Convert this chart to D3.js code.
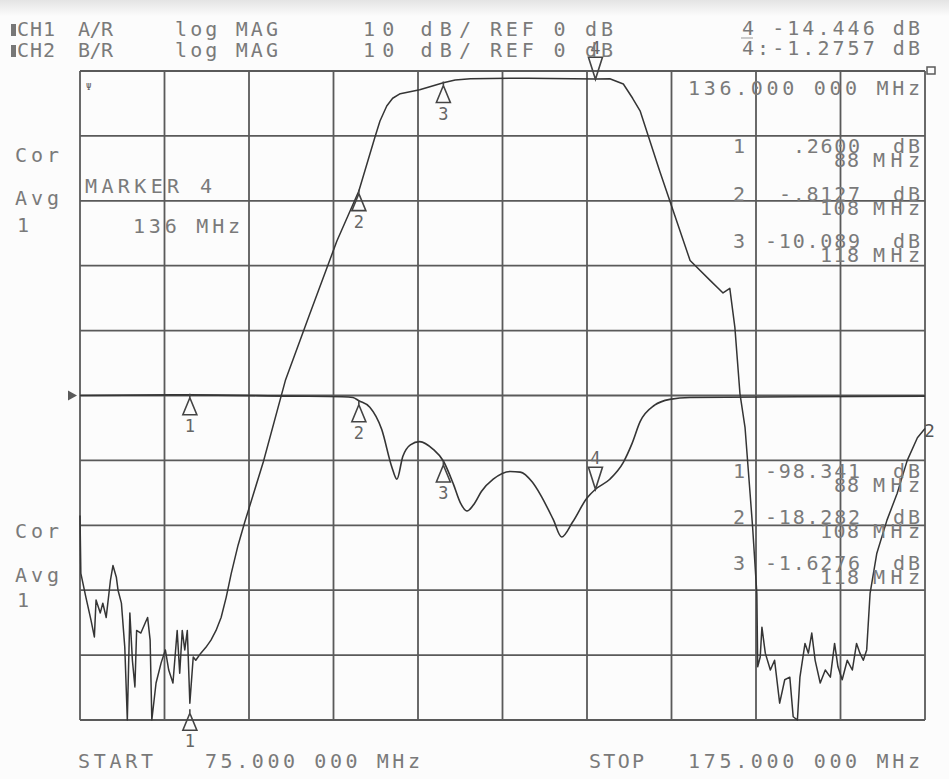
<!DOCTYPE html>
<html>
<head>
<meta charset="utf-8">
<script src="https://cdn.jsdelivr.net/npm/d3@7"></script>
<style>
  html, body { margin: 0; padding: 0; background: #fcfcfc; }
  text { font-family: "DejaVu Sans Mono", monospace; white-space: pre; }
</style>
</head>
<body>
<svg id="chart" width="949" height="779"></svg>
<script>
/**
 * Sweep settings
 */
var startFreq = 75;
var stopFreq = 175;
var dbPerDiv = 10;

/**
 * CH2 B/R (transmission), ref 0 dB at top line
 */
var ch2Freq = [75.0, 75.1, 75.7, 76.3, 76.7, 76.9, 77.4, 77.7, 78.1, 78.6, 78.9, 79.3, 79.5, 79.9,
  80.3, 80.6, 80.9, 81.2, 81.5, 81.7, 82.2, 82.7, 83.0, 83.3, 83.5, 84.0, 84.6, 85.1, 85.5, 86.0,
  86.5, 86.8, 87.1, 87.4, 87.7, 88.0, 88.4, 88.7, 89.3, 89.9, 90.5, 91.1, 91.7, 92.3, 92.9, 93.7,
  94.5, 96.7, 99.3, 102.2, 105.4, 108.0, 109.9, 110.5, 111.3, 112.0, 112.9, 115.2, 118.0, 119.4,
  121.2, 128.0, 136.0, 137.7, 139.3, 140.4, 141.3, 143.6, 145.4, 147.2, 149.6, 151.1, 151.9, 152.5,
  153.1, 153.7, 154.3, 154.6, 155.1, 155.2, 155.5, 155.7, 156.1, 156.7, 157.2, 157.8, 158.4, 159.0,
  159.4, 159.9, 160.2, 160.8, 161.2, 161.6, 162.0, 162.6, 163.2, 163.8, 164.3, 164.7, 165.2, 165.8,
  166.4, 166.9, 167.3, 167.7, 168.1, 168.5, 169.3, 170.5, 171.7, 172.9, 174.1, 175.0];
var ch2Db = [-68.5, -77.4, -81.1, -84.6, -87.2, -81.5, -83.5, -82.0, -84.2, -78.5, -76.2, -78.0, -80.0, -82.0,
  -88.8, -100, -83.5, -90.8, -94.9, -86.2, -86.6, -85.1, -84.2, -87.7, -100, -94.3, -91.2, -89.2, -92.3, -94.3,
  -86.2, -92.8, -86.2, -89.2, -86.2, -97.4, -90.3, -90.8, -89.7, -88.8, -87.7, -86.2, -84.2, -81.1, -77.4, -73.1,
  -69.5, -60.2, -47.7, -37.4, -26.2, -18.5, -10.2, -7.7, -5.4, -4.2, -3.5, -2.9, -1.8, -1.4,
  -1.2, -1.1, -1.25, -1.2, -2.0, -4.2, -6.2, -15.4, -22.3, -29.2, -32.3, -34.2, -33.5, -39.5,
  -49.7, -54.9, -65.1, -70.3, -80.5, -91.8, -90.3, -85.7, -89.7, -92.3, -90.8, -97.4, -93.8, -93.4,
  -99.5, -100, -93.4, -88.2, -89.7, -86.6, -90.8, -94.3, -92.3, -93.4, -88.2, -91.8, -93.8, -90.8,
  -92.3, -88.2, -89.7, -90.8, -89.2, -80.5, -74.3, -69.2, -65.1, -60.0, -56.5, -55.1];

/**
 * CH1 A/R (reflection), ref 0 dB at centre line
 */
var ch1Freq = [75, 88, 100, 106, 107.3, 108, 109.3, 110.7, 111.9, 112.5, 113.2, 114.1, 115.2, 116.8,
  118, 119.2, 120.0, 120.8, 121.7, 122.5, 123.9, 125.9, 127.1, 128.5, 129.5, 131.0, 132.0, 133.3,
  135.0, 136, 137.7, 139.3, 140.3, 141.3, 143.0, 144.8, 147.2, 160, 175];
var ch1Db = [0.0, 0.1, -0.1, -0.2, -0.3, -0.81, -1.8, -5.2, -11.0, -12.9, -9.4, -7.6, -7.1, -8.3,
  -10.09, -13.7, -16.5, -17.8, -16.6, -14.8, -12.9, -11.7, -11.8, -13.3, -15.3, -19.1, -21.8, -19.5,
  -15.8, -14.45, -12.9, -10.3, -7.5, -4.0, -1.5, -0.6, -0.3, -0.2, -0.1];

/**
 * Markers
 */
var markerFreqs = [88, 108, 118, 136];
var ch1MarkerDb = [0.26, -0.8127, -10.089, -14.446];
var ch2MarkerDb = [-98.341, -18.282, -1.6276, -1.2757];
var activeMarker = 4;

/**
 * Header labels
 */
var headerCh1 = ['CH1', 'A/R', 'log MAG', '10 dB/', 'REF 0 dB'];
var headerCh2 = ['CH2', 'B/R', 'log MAG', '10 dB/', 'REF 0 dB'];
var statusLabels = ['Cor', 'Avg', '1'];

var textColor = '#7a7a7a';
var traceColor = '#353535';
var gridColor = '#5a5a5a';

var svg = d3.select('#chart');

var defs = svg.append('defs');
var grad = defs.append('linearGradient')
  .attr('id', 'scan-top')
  .attr('x1', 0).attr('y1', 0).attr('x2', 0).attr('y2', 1);
grad.append('stop').attr('offset', '0%').attr('stop-color', '#e4e4e4');
grad.append('stop').attr('offset', '100%').attr('stop-color', '#fcfcfc');

svg.append('rect')
  .attr('width', 949).attr('height', 16)
  .attr('fill', 'url(#scan-top)');

/**
 * Scales
 */
var x = d3.scaleLinear().domain([startFreq, stopFreq]).range([80, 925]);
var yCh2 = d3.scaleLinear().domain([-10 * dbPerDiv, 0]).range([720, 71]);
var yCh1 = d3.scaleLinear().domain([-5 * dbPerDiv, 5 * dbPerDiv]).range([720, 71]);

function putText(parent, str, px, py, opts) {
  opts = opts || {};
  var t = parent.append('text')
    .attr('x', px)
    .attr('y', py)
    .attr('fill', opts.fill || textColor)
    .attr('text-anchor', opts.anchor || 'start')
    .style('font-size', (opts.size || 20) + 'px')
    .text(str);
  if (opts.width) {
    t.attr('textLength', opts.width).attr('lengthAdjust', 'spacing');
  }
  return t;
}

// HP style numbers: 5 digits, no leading zero
function fmtDb(v) {
  var mag = Math.abs(v);
  var dec = Math.min(4, 4 - Math.floor(Math.log10(mag)));
  var s = mag.toFixed(dec);
  if (s.indexOf('0.') === 0) s = s.slice(1);
  return (v < 0 ? '-' : '') + s;
}

function fmtFreq(f) {
  return f.toFixed(3) + ' 000 MHz';
}

//////////
// GRID
var grid = svg.append('g').attr('id', 'grid');

grid.selectAll('line.v')
  .data(d3.range(startFreq, stopFreq + 1, 10))
  .enter()
  .append('line')
  .attr('class', 'v')
  .attr('x1', function (d) { return x(d); })
  .attr('x2', function (d) { return x(d); })
  .attr('y1', yCh2(0))
  .attr('y2', yCh2(-100))
  .attr('stroke', gridColor)
  .attr('stroke-width', 1.8);

grid.selectAll('line.h')
  .data(d3.range(-100, 1, dbPerDiv))
  .enter()
  .append('line')
  .attr('class', 'h')
  .attr('x1', x(startFreq))
  .attr('x2', x(stopFreq))
  .attr('y1', function (d) { return yCh2(d); })
  .attr('y2', function (d) { return yCh2(d); })
  .attr('stroke', gridColor)
  .attr('stroke-width', 1.8);

// reference position indicators
svg.append('path')
  .attr('d', 'M' + (x(startFreq) - 12) + ',' + (yCh1(0) - 5) + 'l9,5l-9,5z')
  .attr('fill', gridColor);
svg.append('rect')
  .attr('x', x(stopFreq) + 2).attr('y', yCh2(0) - 4)
  .attr('width', 8).attr('height', 7)
  .attr('fill', 'none').attr('stroke', gridColor).attr('stroke-width', 1.5);

//////////
// TRACES
var ch2Line = d3.line()
  .x(function (d) { return x(d[0]); })
  .y(function (d) { return yCh2(d[1]); });

var ch1Line = d3.line()
  .curve(d3.curveMonotoneX)
  .x(function (d) { return x(d[0]); })
  .y(function (d) { return yCh1(d[1]); });

svg.append('path')
  .datum(d3.zip(ch1Freq, ch1Db))
  .attr('d', ch1Line)
  .attr('fill', 'none')
  .attr('stroke', traceColor)
  .attr('stroke-width', 1.6);

svg.append('path')
  .datum(d3.zip(ch2Freq, ch2Db))
  .attr('d', ch2Line)
  .attr('fill', 'none')
  .attr('stroke', traceColor)
  .attr('stroke-width', 1.5)
  .attr('stroke-linejoin', 'round');

// channel tag at end of CH2 trace
putText(svg, '2', x(stopFreq) - 1, yCh2(ch2Db[ch2Db.length - 1]) + 8, { fill: '#555', size: 18 });

//////////
// MARKERS
function drawMarker(px, py, num, active) {
  var g = svg.append('g').attr('class', 'marker');
  if (active) {
    g.append('path')
      .attr('d', 'M' + px + ',' + py + 'L' + (px - 7) + ',' + (py - 22) + 'L' + (px + 7) + ',' + (py - 22) + 'Z')
      .attr('fill', 'none').attr('stroke', '#444').attr('stroke-width', 1.6);
    putText(g, String(num), px, py - 25, { anchor: 'middle', fill: '#666', size: 17 });
  } else {
    g.append('path')
      .attr('d', 'M' + px + ',' + py + 'v4M' + (px - 7) + ',' + (py + 21) + 'L' + px + ',' + (py + 4) +
        'L' + (px + 7) + ',' + (py + 21) + 'Z')
      .attr('fill', 'none').attr('stroke', '#444').attr('stroke-width', 1.6);
    putText(g, String(num), px, py + 38, { anchor: 'middle', fill: '#666', size: 17 });
  }
}

markerFreqs.forEach(function (f, i) {
  var num = i + 1;
  drawMarker(x(f), yCh1(ch1MarkerDb[i]), num, num === activeMarker);
  drawMarker(x(f), yCh2(ch2MarkerDb[i]), num, num === activeMarker);
});

//////////
// TEXT
var headerX = [17, 78, 175, 363, 490];
var headerW = [38, 35, 103, 108, 123];

[headerCh1, headerCh2].forEach(function (row, r) {
  var by = r === 0 ? 36 : 57;
  svg.append('rect')
    .attr('x', 11).attr('y', by - 12).attr('width', 5).attr('height', 12)
    .attr('fill', '#777');
  row.forEach(function (s, i) {
    putText(svg, s, headerX[i], by, { width: headerW[i] });
  });
});

var ai = activeMarker - 1;
putText(svg, activeMarker + ' ' + fmtDb(ch1MarkerDb[ai]) + ' dB', 742, 35, { width: 178 });
putText(svg, activeMarker + ':' + fmtDb(ch2MarkerDb[ai]) + ' dB', 742, 55, { width: 178 });
svg.append('line').attr('x1', 741).attr('x2', 753).attr('y1', 38).attr('y2', 38)
  .attr('stroke', '#999').attr('stroke-width', 1);

putText(svg, fmtFreq(markerFreqs[ai]), 688, 95, { width: 232 });
putText(svg, 'MARKER ' + activeMarker, 85, 193, { width: 127 });
putText(svg, markerFreqs[ai] + ' MHz', 133, 233, { width: 107 });
putText(svg, '\u03a8', 86, 90, { size: 9, fill: '#666' });

// left status blocks
[[162, 205, 232], [538, 582, 607]].forEach(function (ys) {
  statusLabels.forEach(function (s, i) {
    putText(svg, s, s === '1' ? 17 : 15, ys[i], { width: s === '1' ? 10 : 44 });
  });
});

// marker readout panels
function readout(values, top, step) {
  values.slice(0, 3).forEach(function (v, i) {
    var by = top + i * step;
    var num = fmtDb(v);
    var fs = String(markerFreqs[i]);
    putText(svg, String(i + 1), 733, by, { width: 11 });
    putText(svg, num, 860 - (num.length * 14 - 3), by, { width: num.length * 14 - 3 });
    putText(svg, 'dB', 893, by, { width: 27 });
    putText(svg, fs, 859 - (fs.length * 14 - 3), by + 14, { width: fs.length * 14 - 3 });
    putText(svg, 'MHz', 873, by + 14, { width: 47 });
  });
}

readout(ch1MarkerDb, 153, 47.5);
readout(ch2MarkerDb, 478, 46);

// sweep limits
putText(svg, 'START', 78, 768, { width: 75 });
putText(svg, fmtFreq(startFreq), 205, 768, { width: 215 });
putText(svg, 'STOP', 589, 768, { width: 55 });
putText(svg, fmtFreq(stopFreq), 688, 768, { width: 232 });
</script>
</body>
</html>
